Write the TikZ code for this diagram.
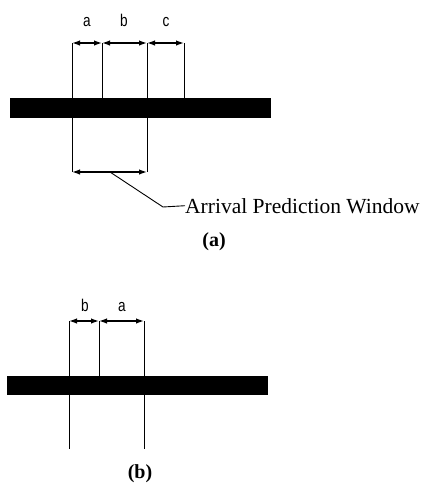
\documentclass[tikz,border=0pt]{standalone}
\usepackage{fontspec}
\setmainfont{Liberation Serif}
\newfontfamily\dimfont{Liberation Sans}
\usepackage{tikz}
\usetikzlibrary{arrows.meta,positioning}

\tikzset{
  dimline/.style={{Latex[length=8pt,width=5.5pt]}-{Latex[length=8pt,width=5.5pt]}, line width=1.4pt},
  extline/.style={line width=0.9pt},
  railbar/.style={fill=black},
  dimlabel/.style={font=\fontsize{17}{17}\selectfont\dimfont, anchor=base, xscale=0.8, transform shape},
  caption/.style={font=\fontsize{20}{20}\selectfont\bfseries, anchor=base}
}

\begin{document}
\begin{tikzpicture}[x=1pt, y=-1pt]
  \useasboundingbox (0,0) rectangle (421,483);

  % Part (a)
  \fill[railbar] (10,98) rectangle (271,118);
  \coordinate (a1) at (72,43);
  \coordinate (a2) at (102,43);
  \coordinate (a3) at (147,43);
  \coordinate (a4) at (184,43);
  \coordinate (a1b) at (72,172);
  \coordinate (a3b) at (147,172);
  \coordinate (a2f) at (102,98);
  \coordinate (a4f) at (184,98);
  \draw[extline] (a1) -- (a1b);
  \draw[extline] (a3) -- (a3b);
  \draw[extline] (a2) -- (a2f);
  \draw[extline] (a4) -- (a4f);
  \draw[dimline] (a1) -- (a2);
  \draw[dimline] (a2) -- (a3);
  \draw[dimline] (a3) -- (a4);
  \draw[dimline] (a1b) -- (a3b);
  \node[dimlabel] (la) at (87,26) {a};
  \node[dimlabel] (lb) at (124,26) {b};
  \node[dimlabel] (lc) at (166,26) {c};

  % Leader to the window label
  \coordinate (lead0) at (110,172);
  \coordinate (lead1) at (163,207);
  \node[anchor=base west, inner sep=0pt, font=\fontsize{21.5}{21.5}\selectfont] (apw) at (185,213) {Arrival Prediction Window};
  \draw[extline] (lead0) -- (lead1) -- (apw.west);
  \node[caption] (capa) at (214,246) {(a)};

  % Part (b)
  \fill[railbar] (7,376) rectangle (268,395);
  \coordinate (b1) at (69,321);
  \coordinate (b2) at (99,321);
  \coordinate (b3) at (144,321);
  \coordinate (b1b) at (69,449);
  \coordinate (b3b) at (144,449);
  \coordinate (b2f) at (99,376);
  \draw[extline] (b1) -- (b1b);
  \draw[extline] (b3) -- (b3b);
  \draw[extline] (b2) -- (b2f);
  \draw[dimline] (b1) -- (b2);
  \draw[dimline] (b2) -- (b3);
  \node[dimlabel] (lb2) at (85,311) {b};
  \node[dimlabel] (la2) at (122,311) {a};
  \node[caption] (capb) at (140,478) {(b)};
\end{tikzpicture}
\end{document}
